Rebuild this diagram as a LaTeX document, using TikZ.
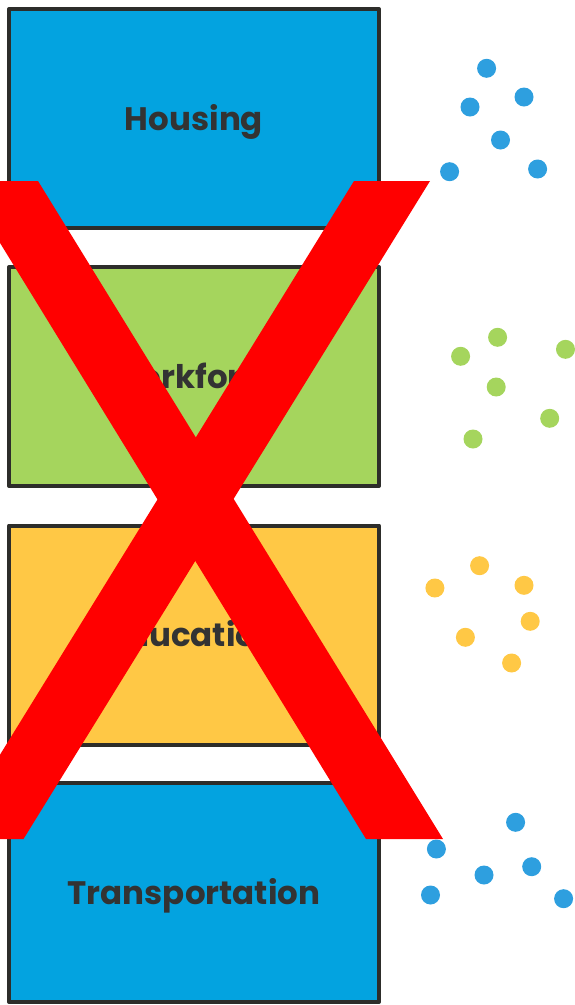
\documentclass[tikz,border=0pt]{standalone}
\usepackage{fontspec}
\setmainfont{Poppins}
\definecolor{boxblue}{HTML}{03A3E0}
\definecolor{boxgreen}{HTML}{A5D55D}
\definecolor{boxyellow}{HTML}{FFC845}
\definecolor{boxline}{HTML}{2D2D2A}
\definecolor{spotblue}{HTML}{2E9FDF}
\definecolor{labelgray}{HTML}{333333}
\begin{document}
\begin{tikzpicture}[x=1pt,y=-1pt,
    theme/.style={shape=rectangle,draw=boxline,line width=4pt,line join=round,minimum width=370pt,minimum height=219pt,text height=23pt,text depth=0pt,font=\fontsize{32.5}{36}\selectfont\bfseries,text=labelgray},
    spot/.style={shape=circle,fill=#1,minimum size=19pt,inner sep=0pt}]
    \useasboundingbox (0,0) rectangle (575,1005);

    \node[theme,fill=boxblue] (Housing) at (194,118.5) {Housing};
    \node[theme,fill=boxgreen] (Workforce) at (194,376.5) {Workforce};
    \node[theme,fill=boxyellow] (Education) at (194,635) {Education};
    \node[theme,fill=boxblue] (Transportation) at (194,892.5) {Transportation};

    % dots next to the boxes
    \node[spot=spotblue] (Housing 1) at (486.6,68.3) {};
    \node[spot=spotblue] (Housing 2) at (470,107) {};
    \node[spot=spotblue] (Housing 3) at (524,97) {};
    \node[spot=spotblue] (Housing 4) at (500.5,140) {};
    \node[spot=spotblue] (Housing 5) at (449.6,171.7) {};
    \node[spot=spotblue] (Housing 6) at (537.6,169) {};

    \node[spot=boxgreen] (Workforce 1) at (497.6,337.3) {};
    \node[spot=boxgreen] (Workforce 2) at (460.6,356.3) {};
    \node[spot=boxgreen] (Workforce 3) at (565.5,349.3) {};
    \node[spot=boxgreen] (Workforce 4) at (496.2,387) {};
    \node[spot=boxgreen] (Workforce 5) at (549.7,418.3) {};
    \node[spot=boxgreen] (Workforce 6) at (473,439) {};

    \node[spot=boxyellow] (Education 1) at (479.6,565.7) {};
    \node[spot=boxyellow] (Education 2) at (434.9,588) {};
    \node[spot=boxyellow] (Education 3) at (524,585.3) {};
    \node[spot=boxyellow] (Education 4) at (530.2,621.3) {};
    \node[spot=boxyellow] (Education 5) at (465.4,637.3) {};
    \node[spot=boxyellow] (Education 6) at (511.6,663) {};

    \node[spot=spotblue] (Transportation 1) at (515.6,822.3) {};
    \node[spot=spotblue] (Transportation 2) at (436.4,849) {};
    \node[spot=spotblue] (Transportation 3) at (484,875) {};
    \node[spot=spotblue] (Transportation 4) at (531.7,866.7) {};
    \node[spot=spotblue] (Transportation 5) at (430.5,895) {};
    \node[spot=spotblue] (Transportation 6) at (563.6,898.7) {};

    % the red cross
    \fill[red] (-38,181) -- (38,181) -- (443,839) -- (366,839) -- cycle;
    \fill[red] (354,181) -- (430,181) -- (23.5,839) -- (-52,839) -- cycle;
\end{tikzpicture}
\end{document}
